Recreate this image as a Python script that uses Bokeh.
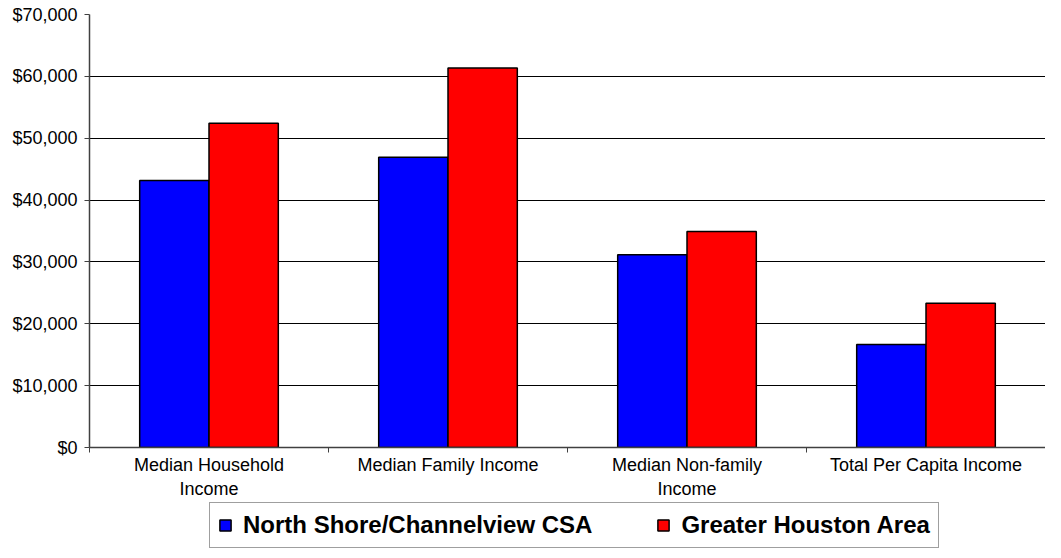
from bokeh.plotting import figure
from bokeh.layouts import column
from bokeh.models import (ColumnDataSource, Range1d, FixedTicker,
                          SingleIntervalTicker, NumeralTickFormatter, Legend, LegendItem)
from bokeh.transform import dodge
from bokeh.embed import file_html
from bokeh.resources import INLINE

# ---- data ----
categories = ["Median Household\nIncome", "Median Family Income",
              "Median Non-family\nIncome", "Total Per Capita Income"]
series_names = ["North Shore/Channelview CSA", "Greater Houston Area"]
series_colors = ["#0000FF", "#FF0000"]
north_shore = [43150, 46930, 31160, 16650]
greater_houston = [52420, 61360, 34910, 23330]
y_max = 70000
y_step = 10000

FONT = "Liberation Sans"
BAR_W = 0.29

n = len(categories)
centers = [i + 0.5 for i in range(n)]   # category slot centres on an index axis
source = ColumnDataSource(data=dict(pos=centers, ns=north_shore, gh=greater_houston))

p = figure(width=1045, height=501, output_backend="svg", toolbar_location=None,
           x_range=Range1d(0, n), y_range=Range1d(0, y_max),
           min_border_left=89, min_border_right=0, min_border_top=14, min_border_bottom=0)
p.outline_line_color = None
p.background_fill_color = "white"
p.border_fill_color = "white"

p.vbar(x=dodge("pos", -BAR_W / 2), top="ns", width=BAR_W, source=source,
       fill_color=series_colors[0], line_color="#000000", line_width=1.5)
p.vbar(x=dodge("pos", BAR_W / 2), top="gh", width=BAR_W, source=source,
       fill_color=series_colors[1], line_color="#000000", line_width=1.5)

# y axis
yax = p.yaxis[0]
yax.ticker = SingleIntervalTicker(interval=y_step)
yax.formatter = NumeralTickFormatter(format="$0,0")
yax.major_label_text_font = FONT
yax.major_label_text_font_size = "18px"
yax.major_label_text_color = "#000000"
yax.major_tick_in = 0
yax.major_tick_out = 5
yax.minor_tick_line_color = None
yax.axis_line_color = "#404040"
yax.axis_line_width = 1.5
yax.major_tick_line_color = "#404040"
yax.major_label_standoff = 7

p.xgrid.grid_line_color = None
p.ygrid.grid_line_color = "#000000"
p.ygrid.grid_line_width = 1
p.ygrid.ticker = SingleIntervalTicker(interval=y_step)

# x axis: boundary ticks (minor) + centred category labels (major)
xax = p.xaxis[0]
xax.ticker = FixedTicker(ticks=centers, minor_ticks=list(range(n + 1)))
xax.major_label_overrides = {c: lab for c, lab in zip(centers, categories)}
xax.major_tick_line_color = None
xax.minor_tick_line_color = "#404040"
xax.minor_tick_in = 0
xax.minor_tick_out = 5
xax.axis_line_color = "#404040"
xax.axis_line_width = 1.5
xax.major_label_text_font = FONT
xax.major_label_text_font_size = "18px"
xax.major_label_text_color = "#000000"
xax.major_label_standoff = 1

# ---- legend strip (separate figure; hidden key renderers give the swatches) ----
lp = figure(width=1045, height=48, output_backend="svg", toolbar_location=None,
            x_axis_location=None, y_axis_location=None,
            min_border_left=0, min_border_right=0, min_border_top=0, min_border_bottom=0)
lp.outline_line_color = None
lp.grid.visible = False
lp.background_fill_color = "white"
lp.border_fill_color = "white"
keys = [lp.vbar(x="pos", top=col, width=BAR_W, source=source, visible=False,
                fill_color=c, line_color="#000000", line_width=1.5)
        for col, c in zip(["ns", "gh"], series_colors)]

legend = Legend(items=[LegendItem(label=s, renderers=[k]) for s, k in zip(series_names, keys)],
                orientation="horizontal", location=(120, 1),
                glyph_width=14, glyph_height=14, label_standoff=11, spacing=64,
                padding=8, margin=0, inactive_fill_alpha=0,
                label_text_font=FONT, label_text_font_style="bold",
                label_text_font_size="24px", label_text_color="#000000",
                border_line_color="#404040", border_line_width=1.5)
lp.add_layout(legend, "center")

layout = column(p, lp, spacing=0)
open("out.html", "w").write(file_html(layout, INLINE))
